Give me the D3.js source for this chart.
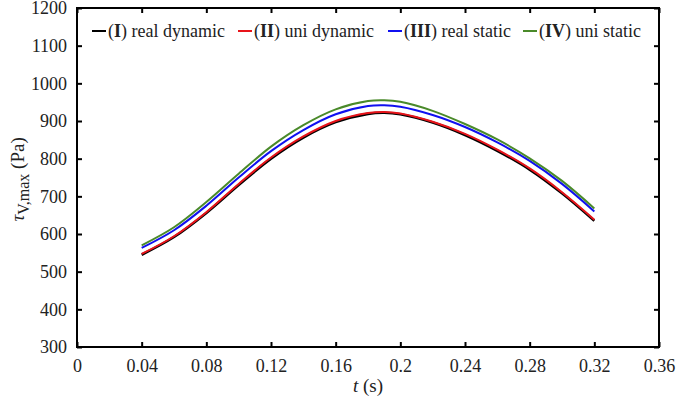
<!DOCTYPE html>
<html><head><meta charset="utf-8">
<script src="https://cdn.jsdelivr.net/npm/d3@7"></script>
<style>body{margin:0;background:#fff}svg{display:block}</style>
</head><body>
<svg id="c" width="676" height="400"></svg>
<script>
const tValues = [0.04,0.06,0.08,0.10,0.12,0.14,0.16,0.18,0.19,0.20,0.22,0.24,0.26,0.28,0.30,0.32];
const realDynamic = [545,592,656,730,800,856,897,919,922,918,896,863,821,771,708,635];
const uniDynamic  = [547,594,658,733,803,859,900,921,924,920,898,866,824,774,711,638];
const realStatic  = [563,610,675,750,820,876,918,940,942,938,916,884,843,794,733,660];
const uniStatic   = [570,618,685,760,832,889,931,953,955,951,927,892,851,801,741,668];
const seriesNames = ["I","II","III","IV"];
const seriesLabels = ["real dynamic","uni dynamic","real static","uni static"];
const seriesColors = ["#000000","#e8141a","#1010f0","#4a8a2a"];
const seriesData = [realDynamic, uniDynamic, realStatic, uniStatic];
const xTicks = [0,0.04,0.08,0.12,0.16,0.2,0.24,0.28,0.32,0.36];
const yTicks = [300,400,500,600,700,800,900,1000,1100,1200];

const svg = d3.select("#c");
const m = {l:77, r:659, t:8, b:347};
const font = "'Liberation Serif', serif";
const x = d3.scaleLinear().domain([0,0.36]).range([m.l,m.r]);
const y = d3.scaleLinear().domain([300,1200]).range([m.b,m.t]);

const line = d3.line().x((d,i)=>x(tValues[i])).y(d=>y(d)).curve(d3.curveCatmullRom.alpha(0.5));
seriesData.forEach((s,k)=>{
  svg.append("path").attr("d", line(s)).attr("fill","none")
    .attr("stroke", seriesColors[k]).attr("stroke-width", k===0?2.6:2);
});

const fmt = d => d===0 ? "0" : String(d);
const gBottom = svg.append("g").attr("transform",`translate(0,${m.b})`)
  .call(d3.axisBottom(x).tickValues(xTicks).tickSize(-5).tickPadding(12).tickFormat(fmt));
const gTop = svg.append("g").attr("transform",`translate(0,${m.t})`)
  .call(d3.axisTop(x).tickValues(xTicks).tickSize(-5).tickFormat(""));
const gLeft = svg.append("g").attr("transform",`translate(${m.l},0)`)
  .call(d3.axisLeft(y).tickValues(yTicks).tickSize(-5).tickPadding(10).tickFormat(d3.format("d")));
const gRight = svg.append("g").attr("transform",`translate(${m.r},0)`)
  .call(d3.axisRight(y).tickValues(yTicks).tickSize(-5).tickFormat(""));
[gBottom,gTop,gLeft,gRight].forEach(g=>{
  g.select(".domain").remove();
  g.selectAll(".tick line").attr("stroke","#000").attr("stroke-width",2);
  g.selectAll("text").attr("font-family",font).attr("font-size",18).attr("fill","#222");
});
svg.append("rect").attr("x",m.l).attr("y",m.t).attr("width",m.r-m.l).attr("height",m.b-m.t)
  .attr("fill","none").attr("stroke","#000").attr("stroke-width",2);

// legend
const legX = [92, 238, 388, 523];
seriesNames.forEach((n,k)=>{
  const g = svg.append("g").attr("transform",`translate(${legX[k]},31)`);
  g.append("line").attr("x1",0).attr("x2",14).attr("y1",0).attr("y2",0)
    .attr("stroke",seriesColors[k]).attr("stroke-width",2);
  const t = g.append("text").attr("x",16).attr("y",6).attr("font-family",font).attr("font-size",18).attr("fill","#222");
  t.append("tspan").text("(");
  t.append("tspan").attr("font-weight","bold").text(n);
  t.append("tspan").text(") " + seriesLabels[k]);
});

// axis labels
const xl = svg.append("text").attr("x",x(0.18)).attr("y",392).attr("text-anchor","middle")
  .attr("font-family",font).attr("font-size",19).attr("fill","#222");
xl.append("tspan").attr("font-style","italic").text("t");
xl.append("tspan").text(" (s)");
const yl = svg.append("text").attr("transform",`translate(24,${y(745)}) rotate(-90)`).attr("text-anchor","middle")
  .attr("font-family",font).attr("font-size",19).attr("fill","#222");
yl.append("tspan").attr("font-style","italic").text("τ");
yl.append("tspan").attr("font-size",16).attr("dy",5).text("V,max");
yl.append("tspan").attr("dy",-5).text(" (Pa)");
</script>
</body></html>
